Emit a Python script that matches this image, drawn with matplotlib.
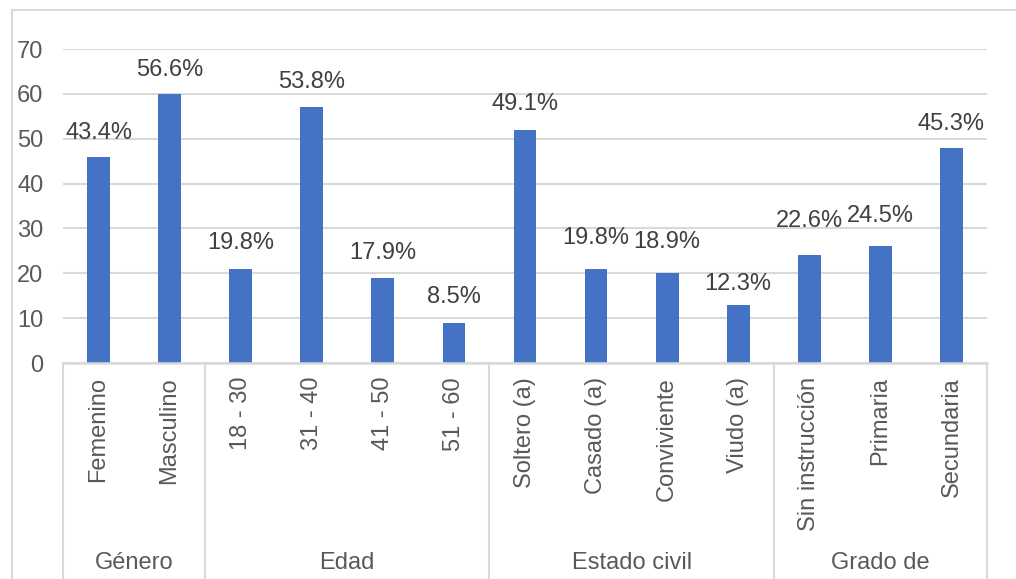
import matplotlib.pyplot as plt
from matplotlib.lines import Line2D
from matplotlib.patches import Rectangle
import matplotlib.transforms as mtransforms

plt.rcParams['font.family'] = ['Liberation Sans', 'DejaVu Sans']

# data
categories = ['Femenino', 'Masculino',
              '18 - 30', '31 - 40', '41 - 50', '51 - 60',
              'Soltero (a)', 'Casado (a)', 'Conviviente', 'Viudo (a)',
              'Sin instrucción', 'Primaria', 'Secundaria']
counts = [46, 60, 21, 57, 19, 9, 52, 21, 20, 13, 24, 26, 48]
pct_labels = ['43.4%', '56.6%', '19.8%', '53.8%', '17.9%', '8.5%',
              '49.1%', '19.8%', '18.9%', '12.3%', '22.6%', '24.5%', '45.3%']
groups = ['Género', 'Edad', 'Estado civil', 'Grado de']
group_sizes = [2, 4, 4, 3]

# label lift above bar top, pixels (labels were hand-moved in the original)
label_dy = [24, 24, 26, 25, 25, 26, 26, 31, 31, 21, 34, 30, 24]

W, H = 1016, 579
fig = plt.figure(figsize=(W / 100, H / 100), dpi=100)
ax = fig.add_axes([63 / W, 1 - 363 / H, (987 - 63) / W, (363 - 49) / H])

bar_col = '#4472C4'
grid_col = '#D9D9D9'
txt_col = '#404040'
tick_col = '#595959'
fs = 17

x = list(range(len(categories)))
ax.bar(x, counts, width=0.32, color=bar_col, zorder=3)
ax.set_xlim(-0.5, len(categories) - 0.5)
ax.set_ylim(0, 70)
ax.set_yticks(range(0, 71, 10))
ax.yaxis.grid(True, color=grid_col, linewidth=1.5, zorder=0)
ax.set_axisbelow(True)
for s in ax.spines.values():
    s.set_visible(False)
ax.tick_params(axis='y', length=0, pad=14, labelsize=fs, labelcolor=tick_col)
ax.set_xticks([])

# data labels
for xi, c, lab, dy in zip(x, counts, pct_labels, label_dy):
    ax.annotate(lab, (xi, c), xytext=(0, dy * 0.72), textcoords='offset points',
                ha='center', va='center', fontsize=fs, color=txt_col)

# category axis (multi-level)
trans = mtransforms.blended_transform_factory(ax.transData, ax.transAxes)
ax_h = 363 - 49
ybot = -(H - 363) / ax_h - 0.05
ax.add_line(Line2D([-0.5, len(categories) - 0.5], [0, 0], transform=trans,
                   color=grid_col, lw=1.8, clip_on=False, zorder=4))
for xi, lab in zip(x, categories):
    ax.text(xi, -14 / ax_h, lab, transform=trans, rotation=90, ha='center',
            va='top', fontsize=fs, color=tick_col)

start = -0.5
bounds = [start]
for g, n in zip(groups, group_sizes):
    mid = start + n / 2
    ax.text(mid, -(563 - 363) / ax_h, g, transform=trans, ha='center',
            va='center', fontsize=fs, color=tick_col)
    start += n
    bounds.append(start)
for b in bounds:
    ax.add_line(Line2D([b, b], [0, ybot], transform=trans, color=grid_col,
                       lw=1.5, clip_on=False))

# chart area border (cut off on right/bottom)
fig.patches.append(Rectangle((12 / W, -0.1), 1.2, 1.1 - 10 / H,
                             transform=fig.transFigure, fill=False,
                             edgecolor=grid_col, lw=1.5))

fig.savefig('out.png', dpi=100)
